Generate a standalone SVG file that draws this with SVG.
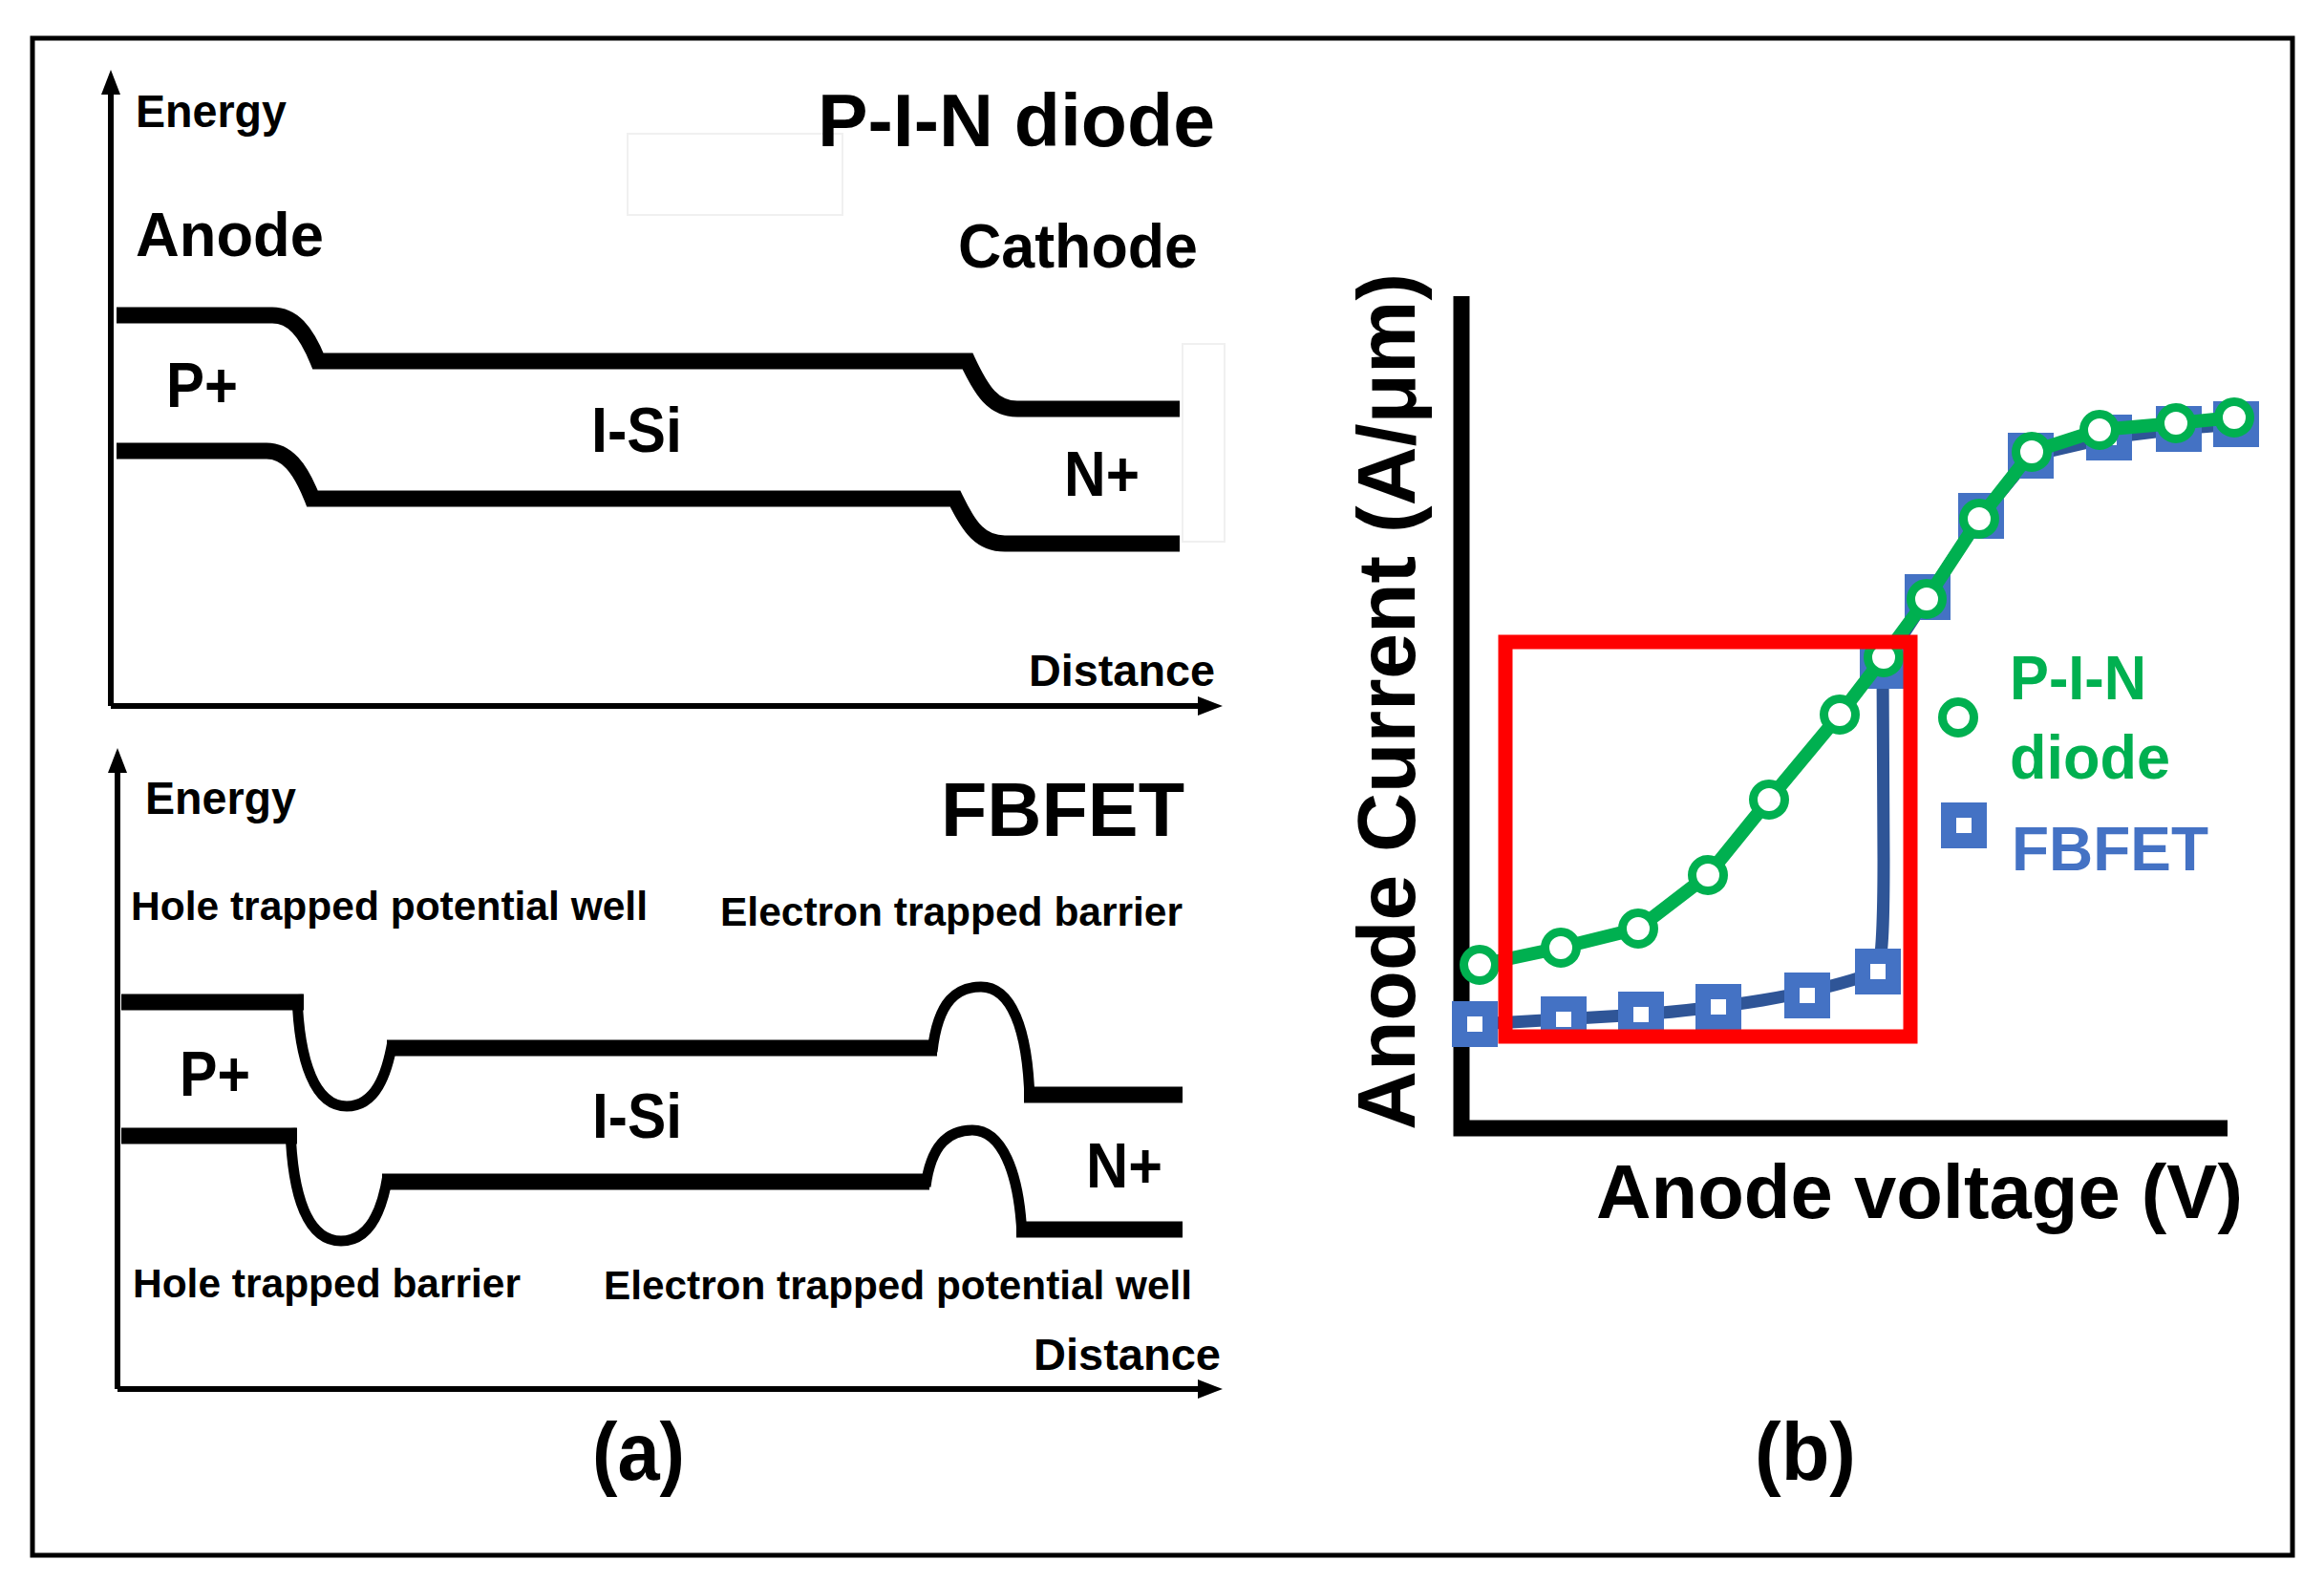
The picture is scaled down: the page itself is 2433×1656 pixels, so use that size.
<svg xmlns="http://www.w3.org/2000/svg" width="2433" height="1656" viewBox="0 0 2433 1656">
<style>
  text { font-family: "Liberation Sans", Arial, sans-serif; font-weight: bold; fill: #000; }
  .band { fill: none; stroke: #000; stroke-width: 17; stroke-linecap: butt; stroke-linejoin: miter; }
  .curve { fill: none; stroke: #000; stroke-width: 11; stroke-linecap: butt; }
  .axis { fill: none; stroke: #000; stroke-width: 6; }
  .faint { fill: none; stroke: #f0f0f0; stroke-width: 2; }
  .green { fill: #00B050; }
  .blue { fill: #4472C4; }
</style>
<defs>
  <marker id="arr" markerUnits="userSpaceOnUse" markerWidth="26" markerHeight="20" refX="12" refY="10" orient="auto">
    <path d="M0,0 L26,10 L0,20 Z" fill="#000"/>
  </marker>
  <g id="sq">
    <rect x="-24" y="-24" width="48" height="48" fill="#4472C4"/>
    <rect x="-8" y="-8" width="16" height="16" fill="#fff"/>
  </g>
  <circle id="ci" r="16.5" fill="#fff" stroke="#00B050" stroke-width="9"/>
</defs>
<rect width="2433" height="1656" fill="#fff"/>
<rect x="34" y="40" width="2366" height="1588" fill="none" stroke="#000" stroke-width="5"/>

<!-- Panel (a) top: P-I-N diode -->
<g id="pin-diagram">
  <rect class="faint" x="657" y="140" width="225" height="85"/>
  <rect class="faint" x="1238" y="360" width="44" height="207"/>
  <path class="axis" d="M116,739 V87" marker-end="url(#arr)"/>
  <path class="axis" d="M116,739 H1266" marker-end="url(#arr)"/>
  <text x="142" y="133" font-size="48" textLength="158" lengthAdjust="spacingAndGlyphs">Energy</text>
  <text x="856" y="153" font-size="78" textLength="416" lengthAdjust="spacingAndGlyphs">P-I-N diode</text>
  <text x="142" y="268" font-size="64" textLength="197" lengthAdjust="spacingAndGlyphs">Anode</text>
  <text x="1003" y="280" font-size="64" textLength="251" lengthAdjust="spacingAndGlyphs">Cathode</text>
  <path class="band" d="M122,330 H285 C306,330 320,346 333,378 H1013 C1028,410 1040,428 1065,428 H1235"/>
  <path class="band" d="M122,472 H279 C300,472 314,489 327,522 H1000 C1015,553 1027,569 1052,569 H1235"/>
  <text x="174" y="426" font-size="66" textLength="75" lengthAdjust="spacingAndGlyphs">P+</text>
  <text x="619" y="473" font-size="66" textLength="95" lengthAdjust="spacingAndGlyphs">I-Si</text>
  <text x="1114" y="519" font-size="66" textLength="79" lengthAdjust="spacingAndGlyphs">N+</text>
  <text x="1077" y="718" font-size="47" textLength="195" lengthAdjust="spacingAndGlyphs">Distance</text>
</g>

<!-- Panel (a) bottom: FBFET -->
<g id="fbfet-diagram">
  <path class="axis" d="M123,1454 V797" marker-end="url(#arr)"/>
  <path class="axis" d="M123,1454 H1266" marker-end="url(#arr)"/>
  <text x="152" y="852" font-size="48" textLength="158" lengthAdjust="spacingAndGlyphs">Energy</text>
  <text x="985" y="875" font-size="80" textLength="255" lengthAdjust="spacingAndGlyphs">FBFET</text>
  <text x="137" y="963" font-size="43" textLength="541" lengthAdjust="spacingAndGlyphs">Hole trapped potential well</text>
  <text x="754" y="969" font-size="43" textLength="484" lengthAdjust="spacingAndGlyphs">Electron trapped barrier</text>
  <!-- conduction band -->
  <path class="band" d="M127,1049 H318"/>
  <path class="curve" d="M311,1041 C313,1112 330,1158 363,1158 C393,1158 405,1125 411,1090"/>
  <path class="band" d="M405,1097 H981"/>
  <path class="curve" d="M976,1101 C982,1046 1003,1033 1027,1033 C1058,1033 1076,1075 1078,1152"/>
  <path class="band" d="M1072,1146 H1238"/>
  <!-- valence band -->
  <path class="band" d="M127,1189 H311"/>
  <path class="curve" d="M304,1181 C306,1252 322,1299 357,1299 C387,1299 400,1268 406,1230"/>
  <path class="band" d="M400,1237 H973"/>
  <path class="curve" d="M969,1242 C975,1196 995,1183 1018,1183 C1048,1183 1067,1225 1070,1294"/>
  <path class="band" d="M1064,1287 H1238"/>
  <text x="188" y="1147" font-size="66" textLength="74" lengthAdjust="spacingAndGlyphs">P+</text>
  <text x="620" y="1191" font-size="66" textLength="94" lengthAdjust="spacingAndGlyphs">I-Si</text>
  <text x="1137" y="1243" font-size="66" textLength="80" lengthAdjust="spacingAndGlyphs">N+</text>
  <text x="139" y="1358" font-size="43" textLength="406" lengthAdjust="spacingAndGlyphs">Hole trapped barrier</text>
  <text x="632" y="1360" font-size="43" textLength="616" lengthAdjust="spacingAndGlyphs">Electron trapped potential well</text>
  <text x="1082" y="1434" font-size="47" textLength="196" lengthAdjust="spacingAndGlyphs">Distance</text>
  <text x="620" y="1549" font-size="86" textLength="97" lengthAdjust="spacingAndGlyphs">(a)</text>
</g>

<!-- Panel (b): I-V chart -->
<g id="iv-chart">
  <path d="M1530,310 V1181 H2332" fill="none" stroke="#000" stroke-width="17" stroke-linejoin="miter"/>
  <text transform="translate(1481,734.5) rotate(-90)" x="0" y="0" text-anchor="middle" font-size="86" textLength="897" lengthAdjust="spacingAndGlyphs">Anode Current (A/μm)</text>
  <text x="1671" y="1275" font-size="80" textLength="677" lengthAdjust="spacingAndGlyphs">Anode voltage (V)</text>
  <g id="connectors">
    <path d="M1544,1072 C1600,1069 1640,1067 1718,1062 C1800,1055 1892,1044 1966,1017 C1971,1000 1972,960 1972,900 L1971,697 L2018,625 L2074,540 L2126,477 L2208,458 L2281,449 L2341,444" fill="none" stroke="#2F5597" stroke-width="13" stroke-linejoin="round"/>
    <g id="fbfet-markers">
      <use href="#sq" x="1544" y="1072"/>
      <use href="#sq" x="1637" y="1067"/>
      <use href="#sq" x="1718" y="1062"/>
      <use href="#sq" x="1799" y="1054"/>
      <use href="#sq" x="1892" y="1042"/>
      <use href="#sq" x="1966" y="1017"/>
      <use href="#sq" x="1971" y="697"/>
      <use href="#sq" x="2018" y="625"/>
      <use href="#sq" x="2074" y="540"/>
      <use href="#sq" x="2126" y="477"/>
      <use href="#sq" x="2208" y="458"/>
      <use href="#sq" x="2281" y="449"/>
      <use href="#sq" x="2341" y="444"/>
    </g>
    <polyline points="1549,1010 1634,992 1715,972 1788,916 1852,837 1926,748 1972,688 2017,627 2072,543 2127,473 2198,450 2278,443 2339,437" fill="none" stroke="#00B050" stroke-width="14" stroke-linejoin="round"/>
    <g id="pin-markers">
      <use href="#ci" x="1549" y="1010"/>
      <use href="#ci" x="1634" y="992"/>
      <use href="#ci" x="1715" y="972"/>
      <use href="#ci" x="1788" y="916"/>
      <use href="#ci" x="1852" y="837"/>
      <use href="#ci" x="1926" y="748"/>
      <use href="#ci" x="1972" y="688"/>
      <use href="#ci" x="2017" y="627"/>
      <use href="#ci" x="2072" y="543"/>
      <use href="#ci" x="2127" y="473"/>
      <use href="#ci" x="2198" y="450"/>
      <use href="#ci" x="2278" y="443"/>
      <use href="#ci" x="2339" y="437"/>
    </g>
  </g>
  <rect id="highlight" x="1576" y="672" width="424" height="413" fill="none" stroke="#FF0000" stroke-width="15"/>
  <g id="legend">
    <use href="#ci" x="2050" y="751"/>
    <text class="green" x="2104" y="732" font-size="65" textLength="143" lengthAdjust="spacingAndGlyphs">P-I-N</text>
    <text class="green" x="2104" y="815" font-size="65" textLength="168" lengthAdjust="spacingAndGlyphs">diode</text>
    <use href="#sq" x="2056" y="864"/>
    <text class="blue" x="2106" y="911" font-size="65" textLength="206" lengthAdjust="spacingAndGlyphs">FBFET</text>
  </g>
  <text x="1837" y="1549" font-size="86" textLength="106" lengthAdjust="spacingAndGlyphs">(b)</text>
</g>
</svg>
